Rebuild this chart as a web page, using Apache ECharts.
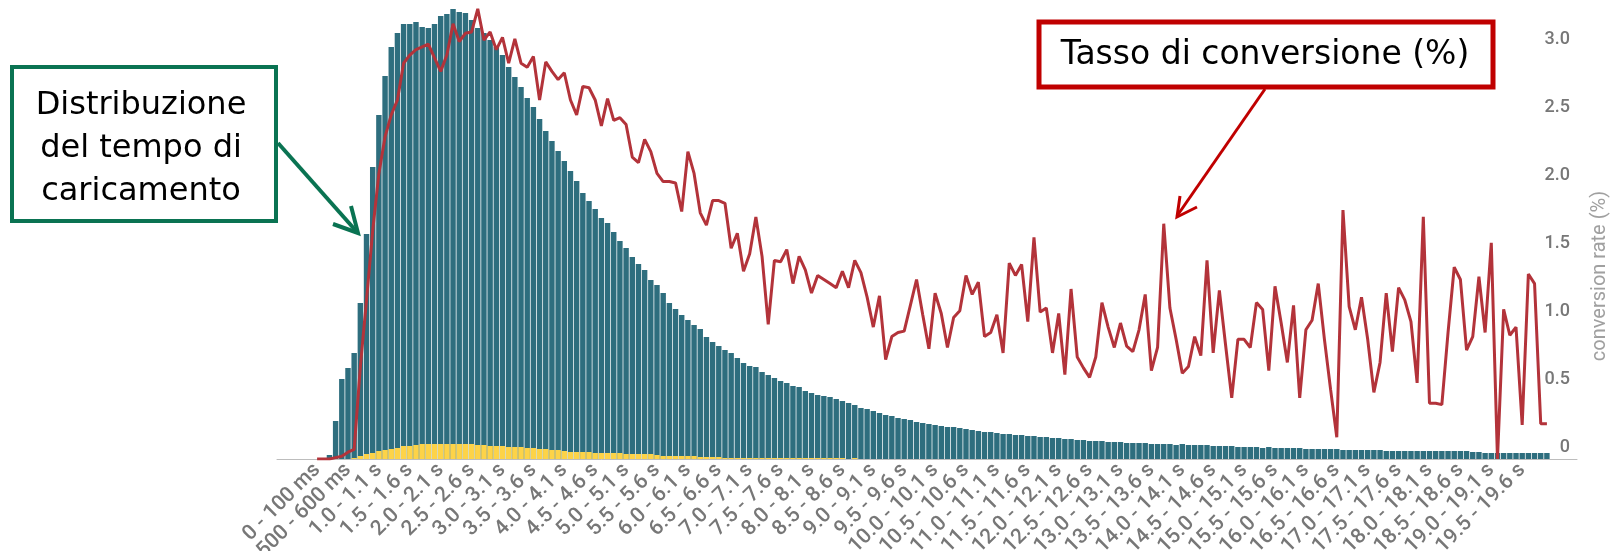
<!DOCTYPE html>
<html>
<head>
<meta charset="utf-8">
<script src="https://cdn.jsdelivr.net/npm/echarts@6/dist/echarts.min.js"></script>
<style>html,body{margin:0;padding:0;background:#fff;}#chart{width:1612px;height:551px;}</style>
</head>
<body>
<div id="chart"></div>
<script>
// Load-time buckets: 0–20 s in 100 ms steps
const categories = [];
for (let i = 0; i < 200; i++) {
  categories.push(i < 10 ? (i * 100) + ' - ' + ((i + 1) * 100) + ' ms'
                         : (i / 10).toFixed(1) + ' - ' + ((i + 1) / 10).toFixed(1) + ' s');
}

// Sessions per bucket (relative units, hidden axis)
const sessions = [
  0,0,4,38,80,91,106,156,225,292,
  344,383,412,426,435,435,437,432,431,435,
  443,445,450,447,446,439,431,426,419,412,
  404,392,382,372,361,352,340,328,318,308,
  298,288,278,266,258,250,241,236,227,218,
  211,202,195,189,179,174,166,156,150,144,
  139,134,130,122,117,113,109,106,101,96,
  93,92,87,84,81,78,76,73,72,68,
  66,64,63,62,60,58,56,54,51,50,
  48,46,44,43,41,40,39,37,36,35,
  34,33,32,32,31,30,29,28,27,27,
  26,25,25,24,24,23,23,22,22,21,
  21,20,20,19,19,18,18,18,17,17,
  17,16,16,16,16,15,15,15,15,14,
  15,14,14,14,14,13,13,13,13,12,
  12,12,12,11,12,11,11,11,11,11,
  10,10,10,10,10,10,9,9,9,9,
  9,9,9,8,8,8,8,8,8,8,
  8,8,8,8,8,8,8,7,7,6,
  6,6,6,6,6,6,6,6,6,6
];

// Converting sessions per bucket (same relative units)
const conversions = [
  0,0,0,0,0,0,1,3,5,6,
  8,9,10,11,13,13,14,15,15,15,
  15,15,15,15,15,15,14,14,13,13,
  13,12,12,12,11,11,10,10,9,9,
  8,7,7,7,7,6,6,6,6,6,
  5,5,5,5,5,4,3,3,3,3,
  3,3,2,2,2,2,1,1,1,1,
  1,1,1,1,1,1,1,1,1,1,
  1,1,1,1,1,1,0,1,0,0,
  0,0,0,0,0,0,0,0,0,0,
  0,0,0,0,0,0,0,0,0,0,
  0,0,0,0,0,0,0,0,0,0,
  0,0,0,0,0,0,0,0,0,0,
  0,0,0,0,0,0,0,0,0,0,
  0,0,0,0,0,0,0,0,0,0,
  0,0,0,0,0,0,0,0,0,0,
  0,0,0,0,0,0,0,0,0,0,
  0,0,0,0,0,0,0,0,0,0,
  0,0,0,0,0,0,0,0,0,0,
  0,0,0,0,0,0,0,0,0,0
];

// Conversion rate (%)
const conversionRate = [
  0,0,0,0.01,0.02,0.05,0.07,0.68,1.17,1.68,
  2.10,2.37,2.53,2.64,2.91,2.97,3.01,3.03,3.05,2.95,
  2.85,2.97,3.20,3.07,3.13,3.14,3.31,3.08,3.14,3.01,
  3.10,2.91,3.09,2.91,2.88,2.96,2.64,2.92,2.85,2.79,
  2.84,2.64,2.53,2.74,2.73,2.64,2.45,2.65,2.49,2.51,
  2.46,2.22,2.18,2.35,2.26,2.10,2.04,2.04,2.03,1.82,
  2.26,2.10,1.81,1.72,1.90,1.90,1.88,1.55,1.66,1.38,
  1.51,1.78,1.49,0.99,1.46,1.45,1.54,1.29,1.49,1.39,
  1.22,1.35,1.32,1.29,1.26,1.38,1.26,1.46,1.37,1.19,
  0.97,1.20,0.73,0.90,0.93,0.94,1.13,1.32,1.06,0.81,
  1.22,1.07,0.82,1.04,1.09,1.35,1.21,1.30,0.90,0.93,
  1.06,0.78,1.44,1.35,1.43,1.01,1.63,1.08,1.11,0.78,
  1.07,0.62,1.25,0.75,0.67,0.60,0.75,1.15,0.97,0.82,
  1.00,0.83,0.79,0.95,1.21,0.65,0.82,1.73,1.11,0.88,
  0.63,0.68,0.90,0.76,1.46,0.78,1.24,0.84,0.45,0.88,
  0.88,0.82,1.15,1.10,0.65,1.27,1.00,0.71,1.13,0.45,
  0.95,1.02,1.29,0.88,0.51,0.16,1.83,1.12,0.95,1.19,
  0.88,0.49,0.71,1.22,0.79,1.26,1.17,1.01,0.56,1.78,
  0.41,0.41,0.40,0.93,1.41,1.32,0.80,0.90,1.34,0.93,
  1.59,0.00,1.10,0.91,0.97,0.25,1.36,1.29,0.26,0.26
];

const rateTicks = [0, 0.5, 1.0, 1.5, 2.0, 2.5, 3.0];
const sessionsAxisMax = 459;
const rateAxisMax = 3.375;

const chart = echarts.init(document.getElementById('chart'), null, {renderer: 'canvas'});
const greenC = '#0A7352';
const redC = '#C00000';
const txtFont = 'DejaVu Sans';

const option = {
  animation: false,
  backgroundColor: '#ffffff',
  grid: [
    {left: 314, right: 62, top: 0, bottom: 92, containLabel: false, outerBoundsMode: 'none'},
    {left: 277, right: 35, top: 0, bottom: 92, containLabel: false, outerBoundsMode: 'none'}
  ],
  xAxis: [
    {
      type: 'category', gridIndex: 0, data: categories, boundaryGap: true,
      axisLine: {show: false}, axisTick: {show: false},
      axisLabel: {interval: 4, rotate: 45, margin: 8, fontSize: 21, fontWeight: 500, color: '#777777', fontFamily: 'Roboto'}
    },
    {
      type: 'value', gridIndex: 1, min: 0, max: 1,
      axisLine: {show: true, onZero: false, lineStyle: {color: '#bdbdbd', width: 1}},
      axisTick: {show: false}, axisLabel: {show: false}, splitLine: {show: false}
    }
  ],
  yAxis: [
    {type: 'value', gridIndex: 0, min: 0, max: sessionsAxisMax, show: false},
    {
      type: 'value', gridIndex: 0, position: 'right', min: 0, max: rateAxisMax, interval: 0.5,
      axisLine: {show: false}, axisTick: {show: false}, splitLine: {show: false},
      axisLabel: {
        showMaxLabel: false, align: 'right', margin: 20, verticalAlign: 'bottom', padding: [0, 0, 3, 0],
        fontSize: 18, fontWeight: 500, color: '#777777', fontFamily: 'Roboto',
        formatter: function (v) { return rateTicks.indexOf(v) < 0 ? '' : (v === 0 ? '0' : v.toFixed(1)); }
      }
    },
    {type: 'value', gridIndex: 1, show: false}
  ],
  series: [
    {
      type: 'bar', xAxisIndex: 0, yAxisIndex: 0, data: sessions,
      barCategoryGap: '12%', itemStyle: {color: '#2E6E7E'}
    },
    {
      type: 'bar', xAxisIndex: 0, yAxisIndex: 0, data: conversions,
      barGap: '-100%', itemStyle: {color: '#FDD348'}
    },
    {
      type: 'line', xAxisIndex: 0, yAxisIndex: 1, data: conversionRate,
      showSymbol: false, symbol: 'none', smooth: false, z: 5,
      lineStyle: {color: '#B3333A', width: 3}
    }
  ],
  graphic: [
    {type: 'text', x: 1600, y: 276, rotation: Math.PI / 2, z: 10,
     style: {text: 'conversion rate (%)', fontSize: 20, fontFamily: 'Roboto', fill: '#a0a0a0', align: 'center', verticalAlign: 'middle'}},
    // green annotation
    {type: 'rect', shape: {x: 12, y: 67, width: 264, height: 154}, z: 20,
     style: {fill: '#ffffff', stroke: greenC, lineWidth: 4}},
    {type: 'text', x: 141, y: 106, z: 21, style: {text: 'Distribuzione', fontSize: 32, fontFamily: txtFont, fill: '#000', align: 'center', verticalAlign: 'middle'}},
    {type: 'text', x: 141, y: 149, z: 21, style: {text: 'del tempo di', fontSize: 32, fontFamily: txtFont, fill: '#000', align: 'center', verticalAlign: 'middle'}},
    {type: 'text', x: 141, y: 192, z: 21, style: {text: 'caricamento', fontSize: 32, fontFamily: txtFont, fill: '#000', align: 'center', verticalAlign: 'middle'}},
    {type: 'line', shape: {x1: 278, y1: 143, x2: 357, y2: 232}, z: 20, style: {stroke: greenC, lineWidth: 4}},
    {type: 'polyline', shape: {points: [[351, 206], [358, 233], [333, 224]]}, z: 20, style: {stroke: greenC, lineWidth: 4, fill: null, lineJoin: 'miter'}},
    // red annotation
    {type: 'rect', shape: {x: 1039, y: 22, width: 454, height: 65}, z: 20,
     style: {fill: '#ffffff', stroke: redC, lineWidth: 5}},
    {type: 'text', x: 1265, y: 55, z: 21, style: {text: 'Tasso di conversione (%)', fontSize: 33, fontFamily: txtFont, fill: '#000', align: 'center', verticalAlign: 'middle'}},
    {type: 'line', shape: {x1: 1265, y1: 89, x2: 1177, y2: 216}, z: 20, style: {stroke: redC, lineWidth: 3}},
    {type: 'polyline', shape: {points: [[1180, 196], [1177, 217], [1197, 207]]}, z: 20, style: {stroke: redC, lineWidth: 3, fill: null}}
  ]
};
chart.setOption(option);
</script>
</body>
</html>
